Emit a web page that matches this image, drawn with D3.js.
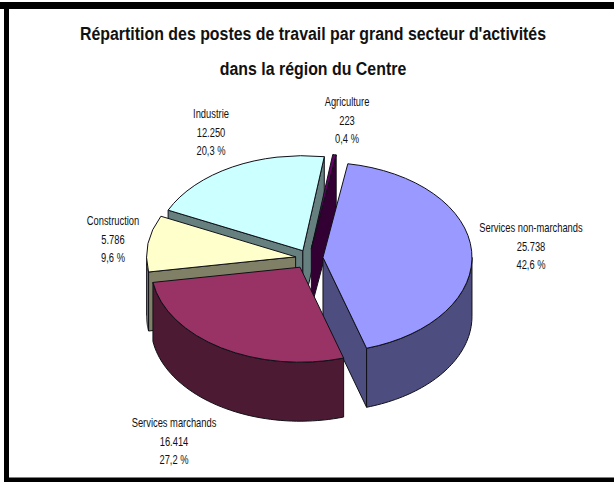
<!DOCTYPE html>
<html>
<head>
<meta charset="utf-8">
<script src="https://cdn.jsdelivr.net/npm/d3@7"></script>
<style>
html,body{margin:0;padding:0;background:#fff;overflow:hidden}
svg{display:block}
text{font-family:"Liberation Sans",Arial,sans-serif;fill:#111}
</style>
</head>
<body>
<svg id="c" width="614" height="482"></svg>
<script>
// Data
const categories = ["Services non-marchands","Services marchands","Construction","Industrie","Agriculture"];
const values = [25738,16414,5786,12250,223];
const titleLines = ["Répartition des postes de travail par grand secteur d'activités","dans la région du Centre"];
// Styles
const topColors = ["#9999ff","#993366","#ffffcc","#ccffff","#660066"];
const wallColors = ["#4d4d80","#4d1a33","#808066","#668080","#330033"];
// Layout
const W=614,H=482,cx=309,cy=258,rx=149,ry=95,depth=59;
const explode=[14,17,13.5,13,15];
const startDeg=9.6;
const paintOrder=[3,4,2,0,1];
const labelPos=[[531,232],[174,427],[113,225],[211,118],[347,106]];
const lineGap=18.5;

const svg=d3.select("#c");
const root=svg.append("g");
root.append("rect").attr("width",W).attr("height",H).attr("fill","#fff");

const pie=d3.pie().sort(null).startAngle(startDeg*Math.PI/180).endAngle(startDeg*Math.PI/180+2*Math.PI);
const arcs=pie(values);
const total=d3.sum(values);
const fr=d3.formatLocale({decimal:",",thousands:".",grouping:[3],currency:["","€"]});
const fmtValue=fr.format(",d"), fmtPct=fr.format(".1f");
const yScale=d3.scaleLinear().domain([-rx,rx]).range([-ry,ry]);
const arcGen=d3.arc().innerRadius(0).outerRadius(rx);
const line=d3.line();

const slices=arcs.map((d,i)=>{
  const mid=(d.startAngle+d.endAngle)/2;
  const ax=cx+explode[i]*Math.sin(mid), ay=cy-yScale(explode[i]*Math.cos(mid));
  const rim=a=>[ax+rx*Math.sin(a),ay-yScale(rx*Math.cos(a))];
  return {d,i,mid,ax,ay,rim};
});

function faceVisible(s,a){
  const p=s.rim(a),q=s.rim(s.mid);
  const ex=p[0]-s.ax,ey=p[1]-s.ay;
  const crossDown=ex*1-ey*0;
  const crossIn=ex*(q[1]-s.ay)-ey*(q[0]-s.ax);
  return crossDown*crossIn<0;
}

paintOrder.forEach(i=>{
  const s=slices[i],g=root.append("g");
  const wall={fill:wallColors[i],stroke:"#101018","stroke-width":1,"stroke-linejoin":"round"};
  const applyWall=sel=>{Object.entries(wall).forEach(([k,v])=>sel.attr(k,v));return sel;};
  [s.d.startAngle,s.d.endAngle].forEach(a=>{
    if(!faceVisible(s,a))return;
    const p=s.rim(a);
    applyWall(g.append("path")).attr("d",line([[s.ax,s.ay],p,[p[0],p[1]+depth],[s.ax,s.ay+depth]])+"Z");
  });
  // outer wall: portion of the rim on the near half of the ellipse
  const a0=Math.max(s.d.startAngle,Math.PI/2),a1=Math.min(s.d.endAngle,3*Math.PI/2);
  if(a1>a0){
    const n=48,t=d3.scaleLinear().domain([0,n]).range([a0,a1]);
    const upper=d3.range(n+1).map(k=>s.rim(t(k)));
    const lower=upper.map(p=>[p[0],p[1]+depth]).reverse();
    applyWall(g.append("path")).attr("d",line(upper.concat(lower))+"Z");
  }
  g.append("path").attr("d",arcGen(s.d))
    .attr("transform",`translate(${s.ax},${s.ay}) scale(1,${ry/rx})`)
    .attr("fill",topColors[i]).attr("stroke","#101018").attr("stroke-width",1)
    .attr("vector-effect","non-scaling-stroke").attr("stroke-linejoin","round");
});

// Frame
root.append("rect").attr("x",0).attr("y",2).attr("width",W).attr("height",7).attr("fill","#000");
root.append("rect").attr("x",4).attr("y",2).attr("width",5).attr("height",H-2).attr("fill","#000");
root.append("rect").attr("x",4).attr("y",477.5).attr("width",W-4).attr("height",4.5).attr("fill","#000");

function putText(x,y,size,sx,str,weight){
  root.append("text").attr("transform",`translate(${x},${y}) scale(${sx},1)`)
    .attr("text-anchor","middle").attr("font-size",size).attr("font-weight",weight||"normal").text(str);
}
// Title
titleLines.forEach((t,i)=>putText(313,40+i*35,18.5,0.86,t,"bold"));
// Labels
categories.forEach((c,i)=>{
  const lines=[c,fmtValue(values[i]),fmtPct(values[i]/total*100)+" %"];
  lines.forEach((t,k)=>putText(labelPos[i][0],labelPos[i][1]+k*lineGap,13,0.72,t));
});
</script>
</body>
</html>
